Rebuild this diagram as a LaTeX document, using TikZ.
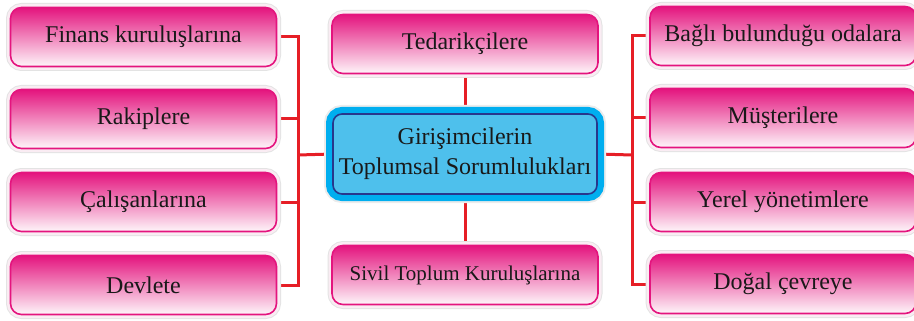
\documentclass[tikz,border=0pt]{standalone}
\usepackage{fontspec}
\setmainfont{Liberation Serif}
\newfontfamily\tms{Liberation Serif}
\pgfdeclarelayer{background}
\pgfsetlayers{background,main}
\definecolor{mag}{RGB}{228,20,126}
\definecolor{lnred}{RGB}{230,30,38}
\definecolor{cyanb}{RGB}{0,174,239}
\definecolor{fillb}{RGB}{78,192,236}
\definecolor{darkb}{RGB}{40,55,140}
\definecolor{halo}{RGB}{250,236,243}
\begin{document}
\begin{tikzpicture}[x=1pt,y=-1pt,
  pinkbox/.style={rounded corners=11pt, minimum width=266pt, minimum height=59pt,
    top color=mag, bottom color=mag!4, draw=mag, line width=1.6pt,
    preaction={draw=gray!22, line width=9pt},
    preaction={draw=halo, line width=7pt},
    font=\tms\fontsize{24}{30}\selectfont, text=black!90, inner sep=0pt},
  bluebox/.style={rounded corners=9pt, minimum width=264pt, minimum height=80pt,
    fill=fillb, draw=darkb, line width=1.6pt,
    preaction={draw=gray!15, line width=18pt},
    preaction={draw=cyanb, line width=14pt},
    font=\tms\fontsize{24}{30}\selectfont, text=black!90, align=center, inner sep=0pt},
  conn/.style={draw=lnred, line width=3pt}]
\useasboundingbox (0,0) rectangle (914,321);
\node[pinkbox] (L1) at (143.5,37) {Finans kuruluşlarına};
\node[pinkbox] (L2) at (143.5,119) {Rakiplere};
\node[pinkbox] (L3) at (143.5,202) {Çalışanlarına};
\node[pinkbox] (L4) at (143.5,285) {Devlete};
\node[pinkbox] (R1) at (783,36) {Bağlı bulunduğu odalara};
\node[pinkbox] (R2) at (783,118) {Müşterilere};
\node[pinkbox] (R3) at (783,202) {Yerel yönetimlere};
\node[pinkbox] (R4) at (783,284) {Doğal çevreye};
\node[pinkbox] (T) at (465,44) {Tedarikçilere};
\node[pinkbox, font=\tms\fontsize{21}{27}\selectfont] (S) at (465,275) {Sivil Toplum Kuruluşlarına};
\node[bluebox] (C) at (465,154) {Girişimcilerin\\Toplumsal Sorumlulukları};
\coordinate (lb) at (298,155);
\coordinate (rb) at (632,155);
\begin{pgfonlayer}{background}
\foreach \n in {L1,L2,L3,L4} \draw[conn] (\n.east) -| (lb);
\foreach \n in {R1,R2,R3,R4} \draw[conn] (\n.west) -| (rb);
\draw[conn] (lb) -- (C.west);
\draw[conn] (rb) -- (C.east);
\draw[conn] (T.south) -- (C.north);
\draw[conn] (C.south) -- (S.north);
\end{pgfonlayer}
\end{tikzpicture}
\end{document}
